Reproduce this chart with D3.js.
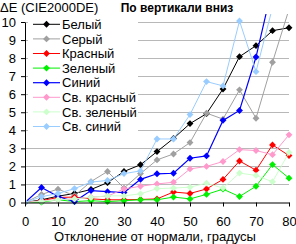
<!DOCTYPE html>
<html>
<head>
<meta charset="utf-8">
<script src="https://cdn.jsdelivr.net/npm/d3@7"></script>
<style>
  body { margin: 0; background: #fff; }
  text { font-family: "Liberation Sans", Arial, sans-serif; }
</style>
</head>
<body>
<div id="chart"></div>
<script>
// angle from the normal, degrees
const angles = [0, 5, 10, 15, 20, 25, 30, 35, 40, 45, 50, 55, 60, 65, 70, 75, 80];

const seriesNames = ["Белый", "Серый", "Красный", "Зеленый", "Синий", "Св. красный", "Св. зеленый", "Св. синий"];
const seriesColors = ["#000000", "#a0a0a0", "#ff0000", "#00f000", "#0000ff", "#ff99cc", "#ccffcc", "#99ccff"];

// dE values
const white      = [0, 0.15, 0.35, 0.5, 0.72, 1.1, 1.72, 2.09, 2.82, 3.55, 4.37, 4.92, 6.29, 8.08, 8.69, 9.52, 9.68];
const gray       = [0, 0.45, 0.74, 0.38, 1.16, 1.72, 0.8, 1.6, 2.36, 2.69, 3.32, 4.95, 4.62, 6.24, 4.67, 7.77, 10.7];
const red        = [0, 0.1, 0.28, 0.3, 0.2, 0.15, 0.15, 0.17, 0.2, 0.58, 0.5, 0.75, 1.28, 2.3, 1.79, 3.19, 2.6];
const green      = [0, 0.02, 0.15, 0.05, 0.1, 0.05, 0.1, 0.15, 0.15, 0.3, 0.2, 0.45, 0.74, 0.33, 0.9, 2.1, 1.35];
const blue       = [0, 0.83, 0.33, 0.05, 0.66, 0.6, 0.55, 1.28, 1.59, 1.62, 2.45, 2.58, 4.55, 5.1, 8.06, 12, 13];
const lightRed   = [0, 0.1, 0.15, 0.2, 0.3, 0.35, 0.75, 0.9, 1.03, 1.12, 1.86, 2.0, 2.27, 2.93, 2.88, 2.65, 3.75];
const lightGreen = [0, 0.06, 0.15, 0.2, 0.28, 0.37, 0.37, 0.48, 0.77, 0.8, 0.85, 1.07, 0.8, 1.63, 1.5, 1.15, 2.77];
const lightBlue  = [0, 0.32, 0.5, 0.77, 1.13, 1.22, 1.6, 1.75, 3.52, 3.52, 4.87, 6.7, 6.46, 10.06, 7.25, 10.8, 11.5];

const seriesValues = [white, gray, red, green, blue, lightRed, lightGreen, lightBlue];
const yTicks = [0, 1, 2, 3, 4, 5, 6, 7, 8, 9, 10];
const xTicks = [0, 10, 20, 30, 40, 50, 60, 70, 80];

const width = 296, height = 244;
const svg = d3.select("#chart")
  .append("svg")
  .attr("width", width)
  .attr("height", height);

// plot area
const x = d3.scaleLinear().domain([0, 80]).range([25, 289]);
const y = d3.scaleLinear().domain([0, 10]).range([202.5, 22]);

// gridlines
svg.append("g")
  .selectAll("line")
  .data(yTicks.slice(1))
  .join("line")
  .attr("x1", x(0))
  .attr("x2", x(80))
  .attr("y1", d => Math.round(y(d)) + 0.5)
  .attr("y2", d => Math.round(y(d)) + 0.5)
  .attr("stroke", "#b8b8b8")
  .attr("stroke-width", 1);

// clip for lines leaving the top
svg.append("clipPath")
  .attr("id", "plotclip")
  .append("rect")
  .attr("x", x(0))
  .attr("y", 14)
  .attr("width", x(80) - x(0) + 4)
  .attr("height", y(0) - 14 + 4);

const line = d3.line()
  .x((d, i) => x(angles[i]))
  .y(d => y(d));

const diamond = d3.symbol().type(d3.symbolDiamond2).size(30);

const series = svg.append("g").attr("clip-path", "url(#plotclip)")
  .selectAll("g")
  .data(seriesValues)
  .join("g");

series.append("path")
  .attr("d", d => line(d))
  .attr("fill", "none")
  .attr("stroke", (d, i) => seriesColors[i])
  .attr("stroke-width", (d, i) => i == 4 ? 1.2 : 1);

series.selectAll("path.m")
  .data((d, i) => d.map((v, j) => ({v: v, a: angles[j], c: seriesColors[i]})))
  .join("path")
  .attr("class", "m")
  .attr("d", diamond)
  .attr("transform", d => `translate(${x(d.a)},${y(d.v)})`)
  .attr("fill", d => d.c);

// axes
const yAxis = svg.append("g")
  .attr("transform", `translate(${x(0)},0)`)
  .call(d3.axisLeft(y).tickValues(yTicks).tickSize(4).tickSizeOuter(0).tickPadding(5));
const xAxis = svg.append("g")
  .attr("transform", `translate(0,${y(0)})`)
  .call(d3.axisBottom(x).tickValues(xTicks).tickSize(4).tickSizeOuter(0).tickPadding(10));

[yAxis, xAxis].forEach(g => {
  g.selectAll("text").style("font-size", "13px").attr("fill", "#000")
    .style("font-family", '"Liberation Sans", Arial, sans-serif');
  g.select(".domain").attr("stroke", "#000");
  g.selectAll(".tick line").attr("stroke", "#000");
});

// legend
const legend = svg.append("g");
legend.append("rect")
  .attr("x", 28).attr("y", 15)
  .attr("width", 110).attr("height", 119)
  .attr("fill", "#fff");
const rows = legend.selectAll("g")
  .data(seriesNames)
  .join("g")
  .attr("transform", (d, i) => `translate(0,${24.3 + i * 14.6})`);
rows.append("line")
  .attr("x1", 33).attr("x2", 60)
  .attr("stroke", (d, i) => seriesColors[i])
  .attr("stroke-width", (d, i) => i == 4 ? 1.2 : 1);
rows.append("path")
  .attr("d", diamond)
  .attr("transform", "translate(46.5,0)")
  .attr("fill", (d, i) => seriesColors[i]);
rows.append("text")
  .attr("x", 62)
  .attr("dy", "0.36em")
  .style("font-size", "13px")
  .text(d => d);

// titles
svg.append("text")
  .attr("x", 0).attr("y", 12)
  .style("font-size", "13px")
  .text("ΔE (CIE2000DE)");
svg.append("text")
  .attr("x", 177).attr("y", 12)
  .attr("text-anchor", "middle")
  .style("font-size", "12px")
  .style("font-weight", "bold")
  .text("По вертикали вниз");
svg.append("text")
  .attr("x", 155).attr("y", 241)
  .attr("text-anchor", "middle")
  .style("font-size", "13px")
  .text("Отклонение от нормали, градусы");
</script>
</body>
</html>
